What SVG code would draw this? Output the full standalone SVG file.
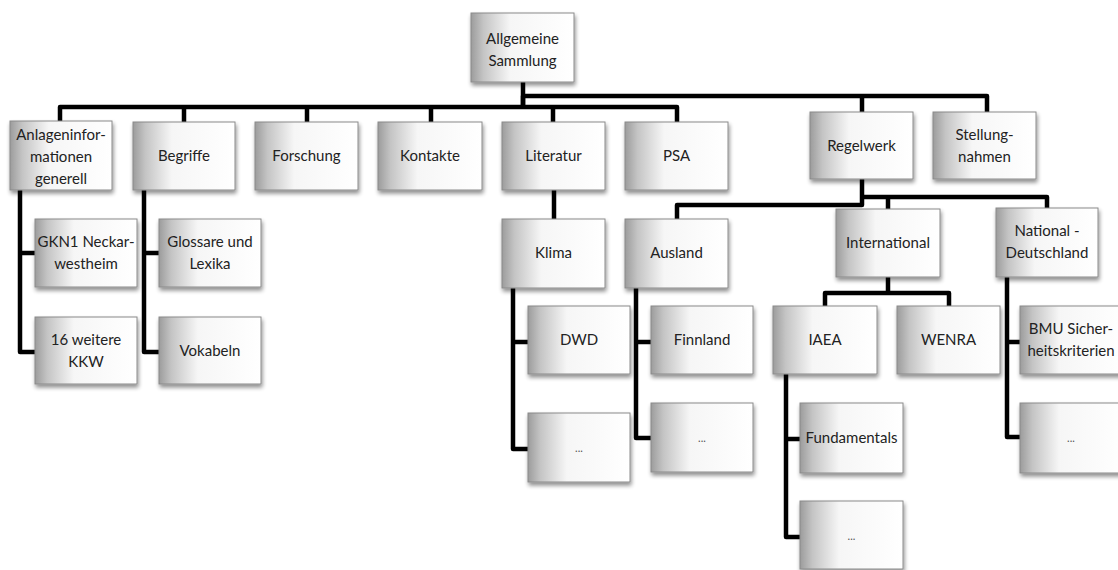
<svg xmlns="http://www.w3.org/2000/svg" width="1118" height="570" viewBox="0 0 1118 570">
  <defs>
    <linearGradient id="boxFill" x1="0" y1="0" x2="1" y2="0">
      <stop offset="0" stop-color="#9c9c9c"/>
      <stop offset="0.12" stop-color="#c4c4c4"/>
      <stop offset="0.38" stop-color="#f6f6f6"/>
      <stop offset="1" stop-color="#ffffff"/>
    </linearGradient>
    <filter id="shadow" x="-10%" y="-10%" width="125%" height="135%">
      <feGaussianBlur in="SourceAlpha" stdDeviation="2"/>
      <feOffset dx="1" dy="3" result="off"/>
      <feComponentTransfer><feFuncA type="linear" slope="0.45"/></feComponentTransfer>
      <feMerge><feMergeNode/><feMergeNode in="SourceGraphic"/></feMerge>
    </filter>
  </defs>
  <style>
    .box { fill: url(#boxFill); stroke: #8a8a8a; stroke-width: 1; filter: url(#shadow); }
    .lbl { font-family: Lato, "Open Sans", "Liberation Sans", sans-serif; font-size: 15px; fill: #222; text-anchor: middle; }
    .dots { font-family: Lato, "Liberation Sans", sans-serif; font-size: 11px; fill: #555; text-anchor: middle; }
    .wire { fill: none; stroke: #000; stroke-width: 4.5; stroke-linejoin: round; stroke-linecap: butt; }
  </style>
  <rect width="1118" height="570" fill="#fff"/>

  <!-- connectors -->
  <g id="connectors">
    <path class="wire" d="M523,82 V107"/>
    <path class="wire" d="M60,122 V107 H677 V122"/>
    <path class="wire" d="M184,107 V122 M307,107 V122 M431,107 V122 M553,107 V122"/>
    <path class="wire" d="M523,107 V96 H987 V112 M862,96 V112"/>
    <path class="wire" d="M862,179 V205 H677 V219"/>
    <path class="wire" d="M862,197 H1047 V208 M888,197 V209"/>
    <path class="wire" d="M554,190 V219"/>
    <path class="wire" d="M20,190 V352 H35 M20,253 H35"/>
    <path class="wire" d="M144,190 V352 H159 M144,253 H159"/>
    <path class="wire" d="M513,288 V449 H528 M513,342 H528"/>
    <path class="wire" d="M636,288 V438 H651 M636,342 H651"/>
    <path class="wire" d="M888,277 V293 M825,306 V293 H949 V306"/>
    <path class="wire" d="M786,374 V537 H800 M786,439 H800"/>
    <path class="wire" d="M1007,277 V437 H1020 M1007,342 H1020"/>
  </g>

  <g id="n-allgemeine"><rect class="box" x="471" y="13" width="103" height="69"/>
    <text class="lbl" x="522.5" y="44">Allgemeine</text><text class="lbl" x="522.5" y="66">Sammlung</text></g>

  <g id="n-anlagen"><rect class="box" x="10" y="121" width="102" height="69"/>
    <text class="lbl" x="61" y="140">Anlageninfor-</text><text class="lbl" x="61" y="162">mationen</text><text class="lbl" x="61" y="184">generell</text></g>
  <g id="n-begriffe"><rect class="box" x="133" y="122" width="102" height="68"/>
    <text class="lbl" x="184" y="161">Begriffe</text></g>
  <g id="n-forschung"><rect class="box" x="255" y="122" width="103" height="68"/>
    <text class="lbl" x="306.5" y="161">Forschung</text></g>
  <g id="n-kontakte"><rect class="box" x="378" y="122" width="104" height="68"/>
    <text class="lbl" x="430" y="161">Kontakte</text></g>
  <g id="n-literatur"><rect class="box" x="502" y="122" width="103" height="68"/>
    <text class="lbl" x="553.5" y="161">Literatur</text></g>
  <g id="n-psa"><rect class="box" x="625" y="122" width="103" height="68"/>
    <text class="lbl" x="676.5" y="161">PSA</text></g>
  <g id="n-regelwerk"><rect class="box" x="810" y="112" width="103" height="67"/>
    <text class="lbl" x="861.5" y="151">Regelwerk</text></g>
  <g id="n-stellungnahmen"><rect class="box" x="933" y="112" width="103" height="67"/>
    <text class="lbl" x="984.5" y="140">Stellung-</text><text class="lbl" x="984.5" y="162">nahmen</text></g>

  <g id="n-gkn1"><rect class="box" x="35" y="219" width="102" height="68"/>
    <text class="lbl" x="86" y="247">GKN1 Neckar-</text><text class="lbl" x="86" y="269">westheim</text></g>
  <g id="n-16kkw"><rect class="box" x="35" y="317" width="102" height="67"/>
    <text class="lbl" x="86" y="345">16 weitere</text><text class="lbl" x="86" y="367">KKW</text></g>
  <g id="n-glossare"><rect class="box" x="159" y="219" width="102" height="68"/>
    <text class="lbl" x="210" y="247">Glossare und</text><text class="lbl" x="210" y="269">Lexika</text></g>
  <g id="n-vokabeln"><rect class="box" x="159" y="317" width="102" height="67"/>
    <text class="lbl" x="210" y="356">Vokabeln</text></g>

  <g id="n-klima"><rect class="box" x="502" y="219" width="103" height="69"/>
    <text class="lbl" x="553.5" y="258">Klima</text></g>
  <g id="n-ausland"><rect class="box" x="625" y="219" width="103" height="69"/>
    <text class="lbl" x="676.5" y="258">Ausland</text></g>
  <g id="n-dwd"><rect class="box" x="528" y="306" width="102" height="68"/>
    <text class="lbl" x="579" y="345">DWD</text></g>
  <g id="n-klima-more"><rect class="box" x="528" y="413" width="102" height="69"/>
    <text class="dots" x="579" y="452">...</text></g>
  <g id="n-finnland"><rect class="box" x="651" y="306" width="102" height="68"/>
    <text class="lbl" x="702" y="345">Finnland</text></g>
  <g id="n-ausland-more"><rect class="box" x="651" y="403" width="102" height="69"/>
    <text class="dots" x="702" y="442">...</text></g>

  <g id="n-international"><rect class="box" x="836" y="209" width="104" height="68"/>
    <text class="lbl" x="888" y="248">International</text></g>
  <g id="n-national"><rect class="box" x="996" y="208" width="102" height="69"/>
    <text class="lbl" x="1047" y="236">National -</text><text class="lbl" x="1047" y="258">Deutschland</text></g>
  <g id="n-iaea"><rect class="box" x="773" y="306" width="104" height="68"/>
    <text class="lbl" x="825" y="345">IAEA</text></g>
  <g id="n-wenra"><rect class="box" x="897" y="306" width="103" height="68"/>
    <text class="lbl" x="948.5" y="345">WENRA</text></g>
  <g id="n-bmu"><rect class="box" x="1020" y="306" width="103" height="68"/>
    <text class="lbl" x="1071" y="334">BMU Sicher-</text><text class="lbl" x="1071" y="356">heitskriterien</text></g>
  <g id="n-national-more"><rect class="box" x="1020" y="403" width="103" height="70"/>
    <text class="dots" x="1071" y="442">...</text></g>
  <g id="n-fundamentals"><rect class="box" x="800" y="403" width="103" height="70"/>
    <text class="lbl" x="851.5" y="443">Fundamentals</text></g>
  <g id="n-iaea-more"><rect class="box" x="800" y="501" width="103" height="68"/>
    <text class="dots" x="851.5" y="540">...</text></g>
</svg>
